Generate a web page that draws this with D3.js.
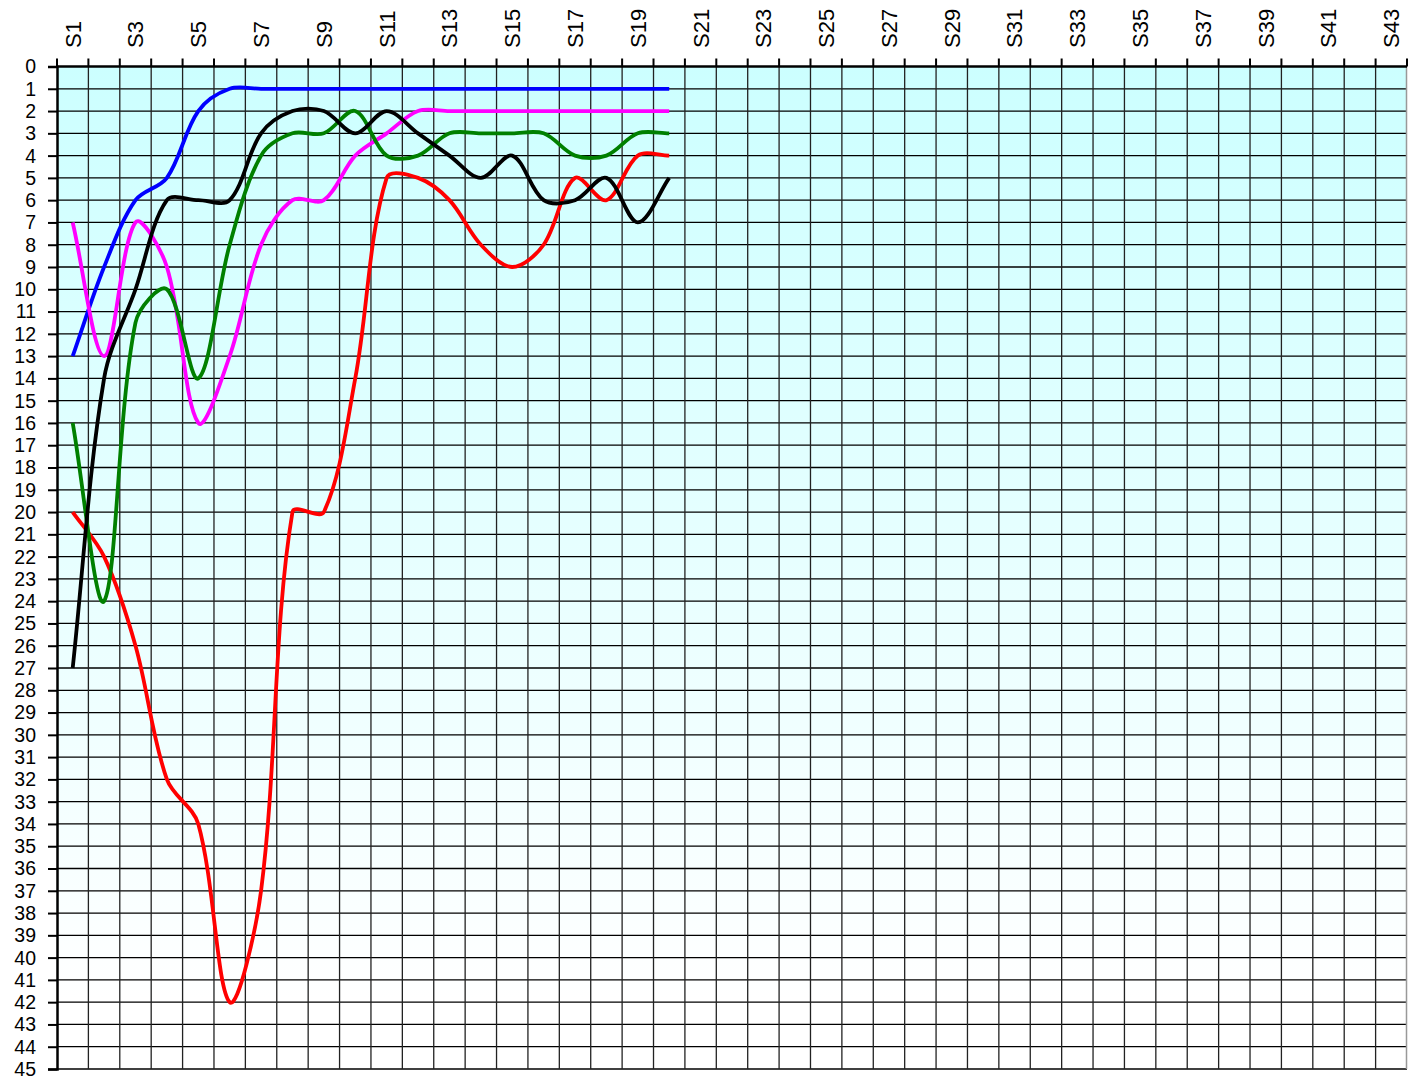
<!DOCTYPE html>
<html>
<head>
<meta charset="utf-8">
<script src="https://cdn.jsdelivr.net/npm/d3@7"></script>
<style>
  html, body { margin: 0; padding: 0; background: #fff; }
  svg text { font-family: "Liberation Sans", Arial, sans-serif; fill: #000; }
</style>
</head>
<body>
<svg id="chart" width="1415" height="1077"></svg>
<script>
// Stage labels along the top axis
const categories = d3.range(1, 44).map(i => "S" + i);
// Rank axis ticks (0 = top)
const rankTicks = d3.range(0, 46);

// Rank of each team after each stage
const blueRanks    = [13, 9, 6, 5, 2, 1, 1, 1, 1, 1, 1, 1, 1, 1, 1, 1, 1, 1, 1, 1];
const magentaRanks = [7, 13, 7, 9, 16, 13, 8, 6, 6, 4, 3, 2, 2, 2, 2, 2, 2, 2, 2, 2];
const greenRanks   = [16, 24, 11.5, 10, 14, 8, 4, 3, 3, 2, 4, 4, 3, 3, 3, 3, 4, 4, 3, 3];
const blackRanks   = [27, 14, 10, 6, 6, 6, 3, 2, 2, 3, 2, 3, 4, 5, 4, 6, 6, 5, 7, 5];
const redRanks     = [20, 22, 26, 32, 34, 42, 37, 20, 20, 14, 5, 5, 6, 8, 9, 8, 5, 6, 4, 4];

const series = [
  { values: redRanks,     color: "#ff0000" },
  { values: blueRanks,    color: "#0000ff" },
  { values: magentaRanks, color: "#ff00ff" },
  { values: greenRanks,   color: "#008000" },
  { values: blackRanks,   color: "#000000" }
];

// Bezier smoothing whose control arms scale with the neighbouring segment lengths
function SegmentSmooth(context) { this._context = context; }
SegmentSmooth.prototype = {
  areaStart() { this._line = 0; },
  areaEnd() { this._line = NaN; },
  lineStart() { this._pts = []; },
  point(px, py) { this._pts.push([+px, +py]); },
  lineEnd() {
    const p = this._pts, n = p.length, ctx = this._context;
    if (!n) return;
    ctx.moveTo(p[0][0], p[0][1]);
    const dist = (a, b) => Math.hypot(b[0] - a[0], b[1] - a[1]);
    for (let i = 0; i < n - 1; i++) {
      const p0 = p[i - 1] || p[i], p1 = p[i], p2 = p[i + 1], p3 = p[i + 2] || p[i + 1];
      const d01 = dist(p0, p1), d12 = dist(p1, p2), d23 = dist(p2, p3);
      const f1 = d01 + d12 > 0 ? d12 / (d01 + d12) / 3 : 0;
      const f2 = d12 + d23 > 0 ? d12 / (d12 + d23) / 3 : 0;
      ctx.bezierCurveTo(
        p1[0] + (p2[0] - p0[0]) * f1, p1[1] + (p2[1] - p0[1]) * f1,
        p2[0] - (p3[0] - p1[0]) * f2, p2[1] - (p3[1] - p1[1]) * f2,
        p2[0], p2[1]);
    }
  }
};
const curveSegmentSmooth = ctx => new SegmentSmooth(ctx);

const svg = d3.select("#chart");
const plotLeft = 57, plotRight = 1407, plotTop = 66.5, plotBottom = 1069;

const x = d3.scaleBand().domain(categories).range([plotLeft, plotRight]).padding(0);
const y = d3.scaleLinear().domain([0, 45]).range([plotTop, plotBottom]);
const cx = c => x(c) + x.bandwidth() / 2;

// Background gradient: light cyan at the top fading to white
const defs = svg.append("defs");
const grad = defs.append("linearGradient")
  .attr("id", "bg").attr("x1", 0).attr("y1", 0).attr("x2", 0).attr("y2", 1);
grad.append("stop").attr("offset", "0%").attr("stop-color", "#ccffff");
grad.append("stop").attr("offset", "93%").attr("stop-color", "#ffffff");
grad.append("stop").attr("offset", "100%").attr("stop-color", "#ffffff");

svg.append("rect")
  .attr("x", plotLeft).attr("y", plotTop)
  .attr("width", plotRight - plotLeft).attr("height", plotBottom - plotTop)
  .attr("fill", "url(#bg)");

// Grid: horizontal line for every rank, vertical line at every band edge
const boundaries = categories.map(c => x(c)).concat([plotRight]);
const grid = svg.append("g");
grid.selectAll("line.h").data(rankTicks.slice(1)).join("line")
  .attr("x1", plotLeft).attr("x2", plotRight)
  .attr("y1", d => y(d)).attr("y2", d => y(d))
  .attr("stroke", "#000").attr("stroke-width", 1.3);
grid.selectAll("line.v").data(boundaries.slice(1, -1)).join("line")
  .attr("x1", d => d).attr("x2", d => d)
  .attr("y1", plotTop).attr("y2", plotBottom)
  .attr("stroke", "#222").attr("stroke-width", 1.3);

// Right border
svg.append("line")
  .attr("x1", plotRight - 0.5).attr("x2", plotRight - 0.5)
  .attr("y1", plotTop).attr("y2", plotBottom)
  .attr("stroke", "#999").attr("stroke-width", 1.5);

// Smoothed rank lines
const line = d3.line()
  .x((d, i) => cx(categories[i]))
  .y(d => y(d))
  .curve(curveSegmentSmooth);

svg.append("g").selectAll("path").data(series).join("path")
  .attr("d", s => line(s.values))
  .attr("fill", "none")
  .attr("stroke", s => s.color)
  .attr("stroke-width", 3.8)
  .attr("stroke-linejoin", "round");

// Left axis (ranks)
const yAxis = d3.axisLeft(y).tickValues(rankTicks).tickSize(9).tickPadding(12);
const gy = svg.append("g").attr("transform", `translate(${plotLeft},0)`).call(yAxis);
gy.select(".domain").attr("stroke-width", 2.5);
gy.selectAll(".tick line").attr("stroke-width", 2);
gy.selectAll(".tick text")
  .style("font-size", "19.5px")
  .style("font-family", "'Liberation Sans', Arial, sans-serif")
  .attr("dy", "0.33em");

// Top axis: ticks at band edges, labels on every other stage
const gx = svg.append("g");
gx.append("line")
  .attr("x1", plotLeft).attr("x2", plotRight)
  .attr("y1", plotTop).attr("y2", plotTop)
  .attr("stroke", "#000").attr("stroke-width", 2.5);
gx.selectAll("line.t").data(boundaries).join("line")
  .attr("x1", d => d).attr("x2", d => d)
  .attr("y1", plotTop - 8).attr("y2", plotTop)
  .attr("stroke", "#000").attr("stroke-width", 2);
gx.selectAll("text").data(categories.filter((c, i) => i % 2 === 0)).join("text")
  .attr("transform", c => `translate(${cx(c)},48) rotate(-90)`)
  .attr("text-anchor", "start")
  .attr("dy", "0.36em")
  .style("font-size", "22px")
  .text(c => c);
</script>
</body>
</html>
